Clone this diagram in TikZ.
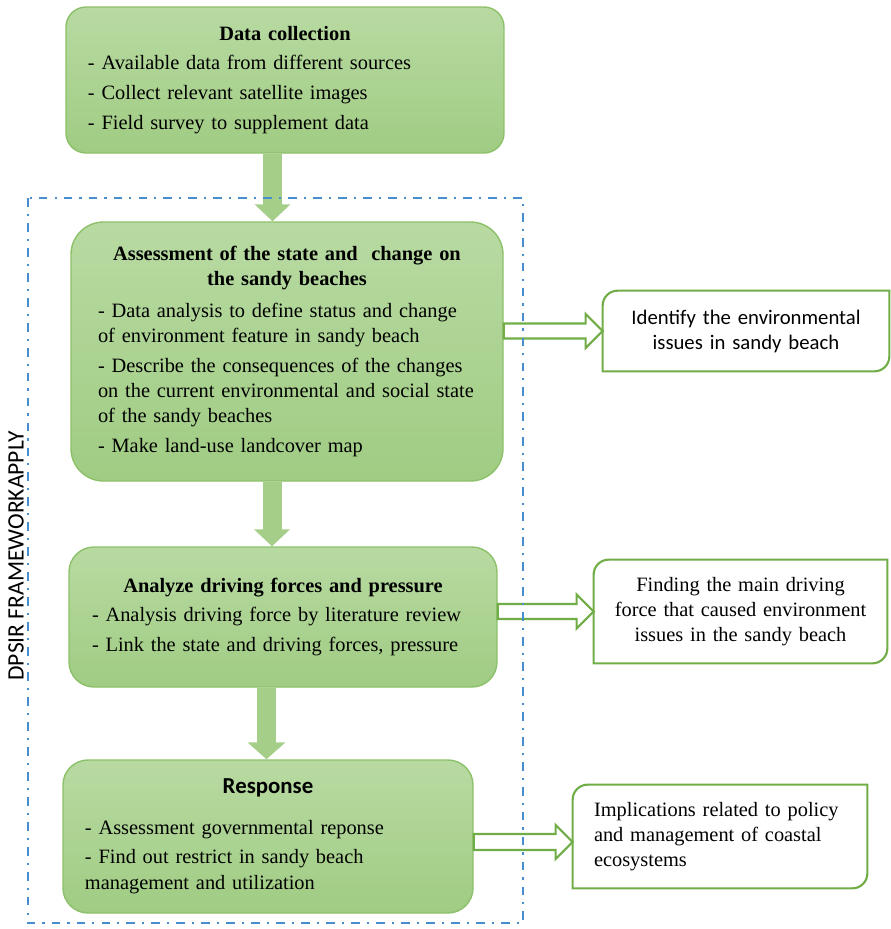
\documentclass[tikz,border=0pt]{standalone}
\usepackage{fontspec}
\setmainfont{Liberation Serif}
\newfontfamily\calibri{Carlito}
\usepackage{xcolor}
\usepackage{tikz}
\usetikzlibrary{calc}
\usetikzlibrary{arrows.meta}

\definecolor{boxtop}{RGB}{184,218,162}
\definecolor{boxbottom}{RGB}{160,204,131}
\definecolor{boxline}{RGB}{140,193,106}
\definecolor{arrowgreen}{RGB}{165,206,137}
\definecolor{sidegreen}{RGB}{112,173,71}
\definecolor{frameblue}{RGB}{72,141,205}

\tikzset{
    mainbox/.style={draw=boxline, line width=0.8pt, top color=boxtop, bottom color=boxbottom, inner xsep=0.44cm, inner ysep=2pt, align=left, font=\fontsize{11.6}{14.2}\selectfont},
    sidebox/.style={inner xsep=0.3cm, inner ysep=2pt, font=\fontsize{11.6}{14.2}\selectfont},
    sideline/.style={draw=sidegreen, line width=1.2pt},
    downarrow/.style={draw=arrowgreen, line width=0.38cm, -{Triangle[width=0.7cm, length=0.34cm]}},
    rightarrow/.style={draw=sidegreen, fill=white, line width=1.2pt, line join=miter},
}

\begin{document}
\begin{tikzpicture}
        \useasboundingbox (0,0) rectangle (17.82,-18.58);
        %MAIN BOXES
        \node[mainbox, text width=7.88cm, minimum height=2.92cm, rounded corners=0.4cm] (dc) at (5.70,-1.60) {\makebox[7.88cm]{\textbf{Data collection}}\\[2.8pt] - Available data from different sources\\[2.8pt] - Collect relevant satellite images\\[2.8pt] - Field survey to supplement data};
        \node[mainbox, inner xsep=0.54cm, text width=7.56cm, minimum height=5.18cm, rounded corners=0.65cm] (as) at (5.74,-7.03) {\makebox[7.56cm]{\textbf{Assessment of the state and\ \ change on}}\\ \makebox[7.56cm]{\textbf{the sandy beaches}}\\[3.9pt] - Data analysis to define status and change\\ of environment feature in sandy beach\\[2.8pt] - Describe the consequences of the changes\\ on the current environmental and social state\\ of the sandy beaches\\[2.8pt] - Make land-use landcover map};
        \node[mainbox, inner xsep=0.46cm, text width=7.64cm, minimum height=2.80cm, rounded corners=0.5cm] (dr) at (5.66,-12.34) {\makebox[7.64cm]{\textbf{Analyze driving forces and pressure}}\\[2.8pt] - Analysis driving force by literature review\\[2.8pt] - Link the state and driving forces, pressure};
        \node[mainbox, text width=7.32cm, minimum height=3.06cm, rounded corners=0.5cm] (rs) at (5.36,-16.73) {\makebox[7.32cm]{\calibri\bfseries\fontsize{13}{15}\selectfont Response}\\[9pt] - Assessment governmental reponse\\[2.3pt] - Find out restrict in sandy beach\\[1pt] management and utilization};
        %SIDE BOXES
        \node[sidebox, text width=5.12cm, minimum width=5.72cm, minimum height=1.60cm, align=center, font=\calibri\fontsize{11.8}{14.2}\selectfont] (id) at (14.92,-6.62) {Identify the environmental\\ issues in sandy beach};
        \node[sidebox, text width=5.26cm, minimum width=5.86cm, minimum height=2.06cm, align=center] (fd) at (14.81,-12.23) {Finding the main driving\\ force that caused environment\\ issues in the sandy beach};
        \node[sidebox, inner xsep=0.42cm, text width=5.04cm, minimum width=5.88cm, minimum height=2.06cm, align=left] (im) at (14.40,-16.73) {Implications related to policy\\ and management of coastal\\ ecosystems};
        \draw[sideline] (id.south west) -- ($(id.north west)+(0,-0.3)$) arc[start angle=180, end angle=90, radius=0.3] -- (id.north east) -- ($(id.south east)+(0,0.3)$) arc[start angle=0, end angle=-90, radius=0.3] -- cycle;
        \draw[sideline] (fd.south west) -- ($(fd.north west)+(0,-0.3)$) arc[start angle=180, end angle=90, radius=0.3] -- (fd.north east) -- ($(fd.south east)+(0,0.3)$) arc[start angle=0, end angle=-90, radius=0.3] -- cycle;
        \draw[sideline] (im.south west) -- ($(im.north west)+(0,-0.3)$) arc[start angle=180, end angle=90, radius=0.3] -- (im.north east) -- ($(im.south east)+(0,0.3)$) arc[start angle=0, end angle=-90, radius=0.3] -- cycle;
        %DOWN ARROWS
        \coordinate (a1) at ($(dc.south)+(-0.25,0)$);
        \coordinate (a2) at ($(as.south)+(-0.30,0)$);
        \coordinate (a3) at ($(dr.south)+(-0.33,0)$);
        \draw[downarrow] (a1) -- (a1 |- as.north);
        \draw[downarrow] (a2) -- (a2 |- dr.north);
        \draw[downarrow, -{Triangle[width=0.74cm, length=0.34cm]}] (a3) -- (a3 |- rs.north);
        %RIGHT ARROWS
        \coordinate (t1) at (id.west);
        \coordinate (t2) at (fd.west);
        \coordinate (t3) at ($(im.west)+(0,-0.11)$);
        \draw[rightarrow] ($(as.east |- t1)+(0,0.15)$) -- ($(t1)+(-0.34,0.15)$) -- ($(t1)+(-0.34,0.34)$) -- (t1) -- ($(t1)+(-0.34,-0.34)$) -- ($(t1)+(-0.34,-0.15)$) -- ($(as.east |- t1)+(0,-0.15)$) -- cycle;
        \draw[rightarrow] ($(dr.east |- t2)+(0,0.15)$) -- ($(t2)+(-0.34,0.15)$) -- ($(t2)+(-0.34,0.34)$) -- (t2) -- ($(t2)+(-0.34,-0.34)$) -- ($(t2)+(-0.34,-0.15)$) -- ($(dr.east |- t2)+(0,-0.15)$) -- cycle;
        \draw[rightarrow] ($(rs.east |- t3)+(0,0.16)$) -- ($(t3)+(-0.34,0.16)$) -- ($(t3)+(-0.34,0.34)$) -- (t3) -- ($(t3)+(-0.34,-0.34)$) -- ($(t3)+(-0.34,-0.16)$) -- ($(rs.east |- t3)+(0,-0.16)$) -- cycle;
        %FRAME
        \draw[frameblue, line width=1.1pt, dash pattern=on 5pt off 4pt on 1.2pt off 4pt] (0.56,-3.96) rectangle (10.46,-18.46);
        \node[rotate=90, font=\calibri\fontsize{13.4}{16}\selectfont] (dpsir) at (0.32,-11.12) {DPSIR FRAMEWORKAPPLY};
\end{tikzpicture}
\end{document}
